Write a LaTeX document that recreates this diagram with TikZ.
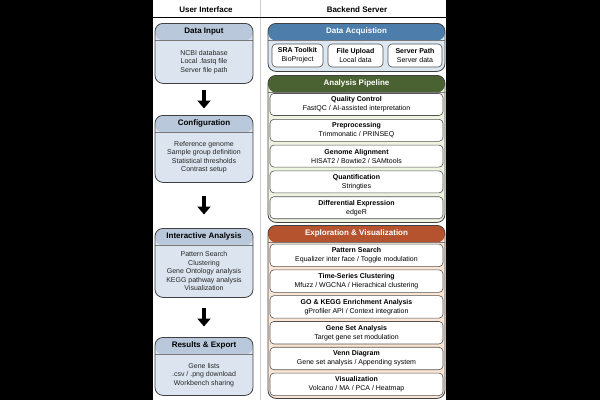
\documentclass[tikz,border=0pt]{standalone}
\usepackage{fontspec}
\setmainfont{Liberation Sans}
\usetikzlibrary{positioning}
\usetikzlibrary{calc}
\usetikzlibrary{arrows.meta}
\definecolor{uibody}{HTML}{DCE5EF}
\definecolor{uihead}{HTML}{B9C9DB}
\definecolor{acqhead}{HTML}{4C7DAB}
\definecolor{acqbody}{HTML}{DDE7F2}
\definecolor{pipehead}{HTML}{4A6232}
\definecolor{pipebody}{HTML}{EEF3E2}
\definecolor{explhead}{HTML}{B5532F}
\definecolor{explbody}{HTML}{FBE5D4}
\definecolor{edge}{HTML}{404040}
\tikzset{
  headband/.style={path picture={
    \fill[#1] (path picture bounding box.north west) rectangle ([yshift=-17pt]path picture bounding box.north east);
    \draw[edge!70, line width=0.6pt] ([yshift=-17pt]path picture bounding box.north west) -- ([yshift=-17pt]path picture bounding box.north east);}},
  uipanel/.style={draw=edge, line width=0.8pt, rounded corners=8pt, fill=uibody, headband=uihead, minimum width=98pt, inner sep=0pt, anchor=north},
  bepanel/.style={draw=edge, line width=0.8pt, rounded corners=8pt, minimum width=177pt, inner sep=0pt, anchor=north},
  paneltitle/.style={font=\fontsize{8}{9.6}\selectfont\bfseries, inner sep=0pt},
  uitext/.style={font=\fontsize{7}{8.5}\selectfont, align=center, inner sep=0pt, text=black!85},
  subbox/.style={draw=edge!90, line width=0.6pt, rounded corners=4pt, fill=white, inner sep=0pt, align=center, font=\fontsize{7}{9}\selectfont, minimum height=22pt},
  bigarrow/.style={line width=4pt, -{Triangle[width=13pt,length=8pt]}}
}
\begin{document}
\begin{tikzpicture}[x=1pt, y=-1pt]
\useasboundingbox (0,0) rectangle (600,400);
\fill[black] (0,0) rectangle (153,400);
\fill[black] (446,0) rectangle (600,400);
\fill[white] (153,0) rectangle (446,400);
\draw[black!20, line width=0.6pt] (260,0) -- (260,400);
\draw[line width=0.7pt] (153,17) -- (446,17);
\node (uicol) [paneltitle] at (206,9.5) {User Interface};
\node (becol) [paneltitle] at (357,9.5) {Backend Server};

% user interface column
\foreach \n/\t/\h/\ti/\bd in {
  din/23/60pt/{Data Input}/{NCBI database\\Local .fastq file\\Server file path},
  conf/115/67pt/{Configuration}/{Reference genome\\Sample group definition\\Statistical thresholds\\Contrast setup},
  inter/228/69pt/{Interactive Analysis}/{Pattern Search\\Clustering\\Gene Ontology analysis\\KEGG pathway analysis\\Visualization},
  res/337/58pt/{Results \& Export}/{Gene lists\\.csv / .png download\\Workbench sharing}} {
\node (\n) [uipanel, minimum height=\h] at (204,\t) {};
\node (\n-t) [paneltitle] at ($(\n.north)+(0,8.5)$) {\ti};
\node (\n-b) [uitext] at ($(\n.center)+(0,8.5)$) {\bd};
}
\foreach \a/\b/\s in {din/conf/6.5pt, conf/inter/13.5pt, inter/res/10.5pt} {
\draw[bigarrow, shorten <=\s, shorten >=\s] (\a) -- (\b);
}

% backend column
\foreach \n/\t/\h/\ti/\bc/\hc in {
  acq/23/48pt/{Data Acquistion}/acqbody/acqhead,
  pipe/75/147pt/{Analysis Pipeline}/pipebody/pipehead,
  expl/225/173pt/{Exploration \& Visualization}/explbody/explhead} {
\node (\n) [bepanel, fill=\bc, headband=\hc, minimum height=\h] at (356.5,\t) {};
\node (\n-t) [paneltitle, text=white] at ($(\n.north)+(0,8.5)$) {\ti};
}
\foreach \i/\x/\w/\ti/\sb in {1/297.5/51pt/{SRA Toolkit}/{BioProject},
  2/355.5/55pt/{File Upload}/{Local data}, 3/415/54pt/{Server Path}/{Server data}} {
\node (acq\i) [subbox, minimum width=\w, minimum height=23pt] at (\x,55.5) {\textbf{\ti}\\\sb};
}
\foreach \ti/\sb [count=\i] in {
  {Quality Control}/{FastQC / AI-assisted interpretation},
  {Preprocessing}/{Trimmonatic / PRINSEQ},
  {Genome Alignment}/{HISAT2 / Bowtie2 / SAMtools},
  {Quantification}/{Stringties},
  {Differential Expression}/{edgeR}} {
\node (pipe\i) [subbox, minimum width=173pt] at (356.5,{104.5+25.8*(\i-1)}) {\textbf{\ti}\\\sb};
}
\foreach \ti/\sb [count=\i] in {
  {Pattern Search}/{Equalizer inter face / Toggle modulation},
  {Time-Series Clustering}/{Mfuzz / WGCNA / Hierachical clustering},
  {GO \& KEGG Enrichment Analysis}/{gProfiler API / Context integration},
  {Gene Set Analysis}/{Target gene set modulation},
  {Venn Diagram}/{Gene set analysis / Appending system},
  {Visualization}/{Volcano / MA / PCA / Heatmap}} {
\node (expl\i) [subbox, minimum width=173pt, minimum height=22.5pt] at (356.5,{255.3+25.8*(\i-1)}) {\textbf{\ti}\\\sb};
}
\end{tikzpicture}
\end{document}
